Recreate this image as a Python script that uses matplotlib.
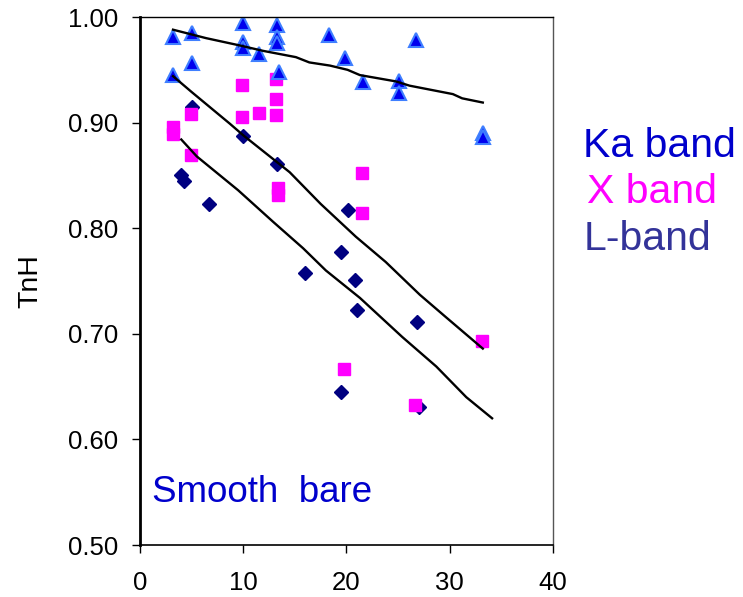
import numpy as np
import matplotlib.pyplot as plt

plt.rcParams['font.family'] = ['Liberation Sans', 'DejaVu Sans']

# Ka band (triangles)
ka_x = [3.2, 5.0, 10.0, 13.3, 13.3, 13.3, 10.0, 10.0, 11.5, 5.0, 3.2, 13.5,
        18.3, 19.9, 21.6, 26.7, 25.1, 25.1, 33.2, 33.2]
ka_y = [0.981, 0.985, 0.994, 0.992, 0.981, 0.975, 0.976, 0.971, 0.965, 0.956, 0.945, 0.948,
        0.983, 0.961, 0.938, 0.978, 0.939, 0.928, 0.890, 0.886]

# X band (squares)
x_x = [3.2, 3.2, 4.9, 4.9, 9.9, 9.9, 11.5, 13.2, 13.2, 13.2, 13.4, 13.4,
       21.5, 21.5, 19.8, 26.6, 33.1]
x_y = [0.896, 0.889, 0.908, 0.869, 0.936, 0.905, 0.909, 0.941, 0.922, 0.907, 0.838, 0.831,
       0.852, 0.814, 0.667, 0.633, 0.693]

# L-band (diamonds)
l_x = [5.0, 10.0, 13.3, 4.0, 4.25, 6.7, 16.0, 20.1, 19.5, 20.8, 21.0, 26.8, 19.5, 27.0]
l_y = [0.915, 0.887, 0.861, 0.850, 0.845, 0.823, 0.758, 0.817, 0.777, 0.751, 0.723,
       0.711, 0.645, 0.631]

# trend lines
tr_ka_x = [3.2, 6.4, 9.7, 11.9, 15.1, 16.4, 18.4, 20.1, 21.3, 24.8, 26.1, 30.3, 31.2, 33.2]
tr_ka_y = [0.988, 0.980, 0.973, 0.968, 0.962, 0.957, 0.954, 0.950, 0.945, 0.939, 0.935,
           0.927, 0.923, 0.919]
tr_x_x = [3.2, 5.0, 8.7, 10.0, 14.5, 17.5, 20.9, 23.8, 27.1, 29.6, 33.2]
tr_x_y = [0.944, 0.929, 0.899, 0.888, 0.853, 0.823, 0.792, 0.768, 0.737, 0.716, 0.686]
tr_l_x = [4.0, 5.5, 9.5, 12.9, 15.8, 18.0, 21.3, 25.4, 28.7, 31.6, 34.1]
tr_l_y = [0.884, 0.868, 0.836, 0.806, 0.781, 0.760, 0.734, 0.697, 0.669, 0.640, 0.620]

fig = plt.figure(figsize=(7.43, 5.97), dpi=100)
ax = fig.add_axes([0.1884, 0.0871, 0.5559, 0.8844])

ax.plot(l_x, l_y, 'D', color='#000080', ms=7, mec='#000080', ls='none')
ax.plot(x_x, x_y, 's', color='#FF00FF', ms=8.5, mec='#FF00FF', ls='none')
ax.plot(ka_x, ka_y, '^', color='#0000EE', ms=10.5, mec='#3F7FFF', mew=1.5, ls='none')

for lx, ly in [(tr_ka_x, tr_ka_y), (tr_x_x, tr_x_y), (tr_l_x, tr_l_y)]:
    ax.plot(lx, ly, color='black', lw=1.7)

ax.set_xlim(0, 40)
ax.set_ylim(0.5, 1.0)
ax.set_xticks(np.arange(0, 41, 10))
ax.set_yticks(np.arange(0.5, 1.01, 0.1))
ax.set_yticklabels(["{:.2f}".format(v) for v in np.arange(0.5, 1.01, 0.1)])
ax.tick_params(axis='both', direction='out', length=6, width=1, labelsize=18.5)
ax.tick_params(axis='y', pad=10)
ax.tick_params(axis='x', pad=13)

ax.spines['left'].set_linewidth(2)
ax.spines['bottom'].set_linewidth(1.2)
ax.spines['top'].set_linewidth(1)
ax.spines['right'].set_linewidth(1)
ax.spines['right'].set_color('#555555')

ax.set_ylabel('TnH', fontsize=20.5)
ax.yaxis.set_label_coords(-0.235, 0.5)

ax.text(1.16, 0.541, 'Smooth  bare', color='#0000CC', fontsize=26.5, va='baseline')

fig.text(583 / 743, 1 - 157 / 597, 'Ka band', color='#0000CC', fontsize=29.5, va='baseline')
fig.text(587 / 743, 1 - 203 / 597, 'X band', color='#FF00FF', fontsize=29.5, va='baseline')
fig.text(584 / 743, 1 - 250 / 597, 'L-band', color='#333399', fontsize=29.5, va='baseline')

fig.savefig('out.png', dpi=100)
